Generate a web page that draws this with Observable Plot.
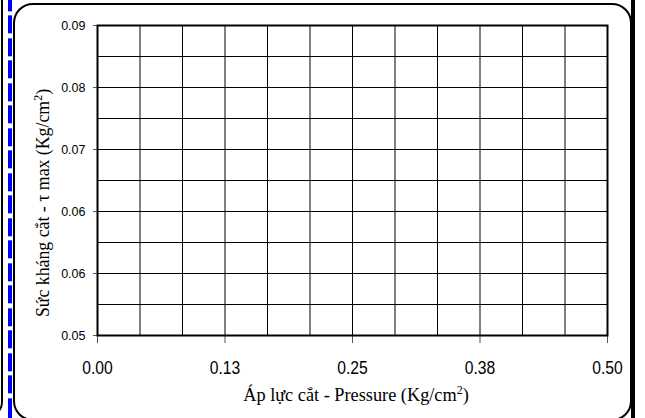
<!DOCTYPE html>
<html>
<head>
<meta charset="utf-8">
<script src="https://cdn.jsdelivr.net/npm/d3@7"></script>
<script src="https://cdn.jsdelivr.net/npm/@observablehq/plot@0.6"></script>
<style>
  html, body { margin: 0; padding: 0; background: #fff; }
  #wrap { position: relative; width: 645px; height: 418px; overflow: hidden; background: #fff; }
  #wrap svg { position: absolute; left: 0; top: 0; }
  .deco { position: absolute; box-sizing: border-box; pointer-events: none; z-index: 2; }
</style>
</head>
<body>
<div id="wrap">
  <div class="deco" style="left:-60px; top:-14px; width:63px; height:432px; border:2px solid #000; border-radius:16px;"></div>
  <div class="deco" style="left:8px; top:0; width:4px; height:418px; background:repeating-linear-gradient(to bottom, #0000ff 0px, #0000ff 18px, transparent 18px, transparent 22.5px); background-position:0 -6.7px;"></div>
  <div class="deco" style="left:13px; top:3px; width:619px; height:418px; border:2px solid #000; border-radius:20px;"></div>
  <div class="deco" style="left:631px; top:0; width:4px; height:418px; background:#000;"></div>
</div>
<script>
// Axis domains and grid
const xDomain = [0, 0.5];
const yDomain = [0.05, 0.09];
const xGridIntervals = 12;
const yGridIntervals = 10;

// Tick values and labels as shown in the chart
const xTicks = [0, 0.125, 0.25, 0.375, 0.5];
const xTickLabels = ["0.00", "0.13", "0.25", "0.38", "0.50"];
const yTicks = [0.05, 0.058, 0.066, 0.074, 0.082, 0.09];
const yTickLabels = ["0.05", "0.06", "0.06", "0.07", "0.08", "0.09"];

// Axis titles
const xTitle = ["Áp lực cắt - Pressure (Kg/cm", "2", ")"];
const yTitle = ["Sức kháng cắt - τ max (Kg/cm", "2", ")"];

const xGrid = d3.range(xGridIntervals + 1).map(i => xDomain[0] + i * (xDomain[1] - xDomain[0]) / xGridIntervals);
const yGrid = d3.range(yGridIntervals + 1).map(i => yDomain[0] + i * (yDomain[1] - yDomain[0]) / yGridIntervals);

const chart = Plot.plot({
  width: 645,
  height: 418,
  marginLeft: 97,
  marginRight: 38,
  marginTop: 25,
  marginBottom: 83,
  style: { background: "transparent" },
  x: { domain: xDomain },
  y: { domain: yDomain },
  marks: [
    Plot.ruleX(xGrid, { stroke: "#000", strokeWidth: 1 }),
    Plot.ruleY(yGrid, { stroke: "#000", strokeWidth: 1 }),
    Plot.axisX({
      ticks: xTicks,
      tickFormat: d => xTickLabels[xTicks.indexOf(d)],
      tickSize: 8,
      tickPadding: 17,
      label: null,
      stroke: "#555",
      fill: "#000",
      fontFamily: "'Liberation Sans', Arial, sans-serif",
      fontSize: 18.6
    }),
    Plot.axisY({
      ticks: yTicks,
      tickFormat: d => yTickLabels[yTicks.indexOf(d)],
      tickSize: 4,
      tickPadding: 8,
      label: null,
      stroke: "#555",
      fill: "#000",
      fontFamily: "'Liberation Sans', Arial, sans-serif",
      fontSize: 12.5
    }),
    Plot.frame({ stroke: "#000", strokeWidth: 2 })
  ]
});

const svg = d3.select(chart);
// condensed look of the horizontal tick labels
svg.selectAll('g[aria-label="x-axis tick label"] text')
  .attr("textLength", 30.5)
  .attr("lengthAdjust", "spacingAndGlyphs");
svg.selectAll('g[aria-label="y-axis tick label"] text')
  .style("font-size", "12.5px")
  .style("font-family", "'Liberation Sans', Arial, sans-serif");

function addTitle(parts, transform, size) {
  const t = svg.append("text")
    .attr("transform", transform)
    .attr("text-anchor", "middle")
    .attr("font-family", "'Liberation Serif', 'Times New Roman', serif")
    .attr("font-size", size)
    .attr("fill", "#000");
  t.append("tspan").text(parts[0]);
  t.append("tspan").attr("dy", -7).attr("font-size", 12).text(parts[1]);
  t.append("tspan").attr("dy", 7).text(parts[2]);
}
addTitle(xTitle, "translate(356,401)", 18.3);
addTitle(yTitle, "translate(49,203) rotate(-90)", 17.8);

document.getElementById("wrap").appendChild(chart);
</script>
</body>
</html>
